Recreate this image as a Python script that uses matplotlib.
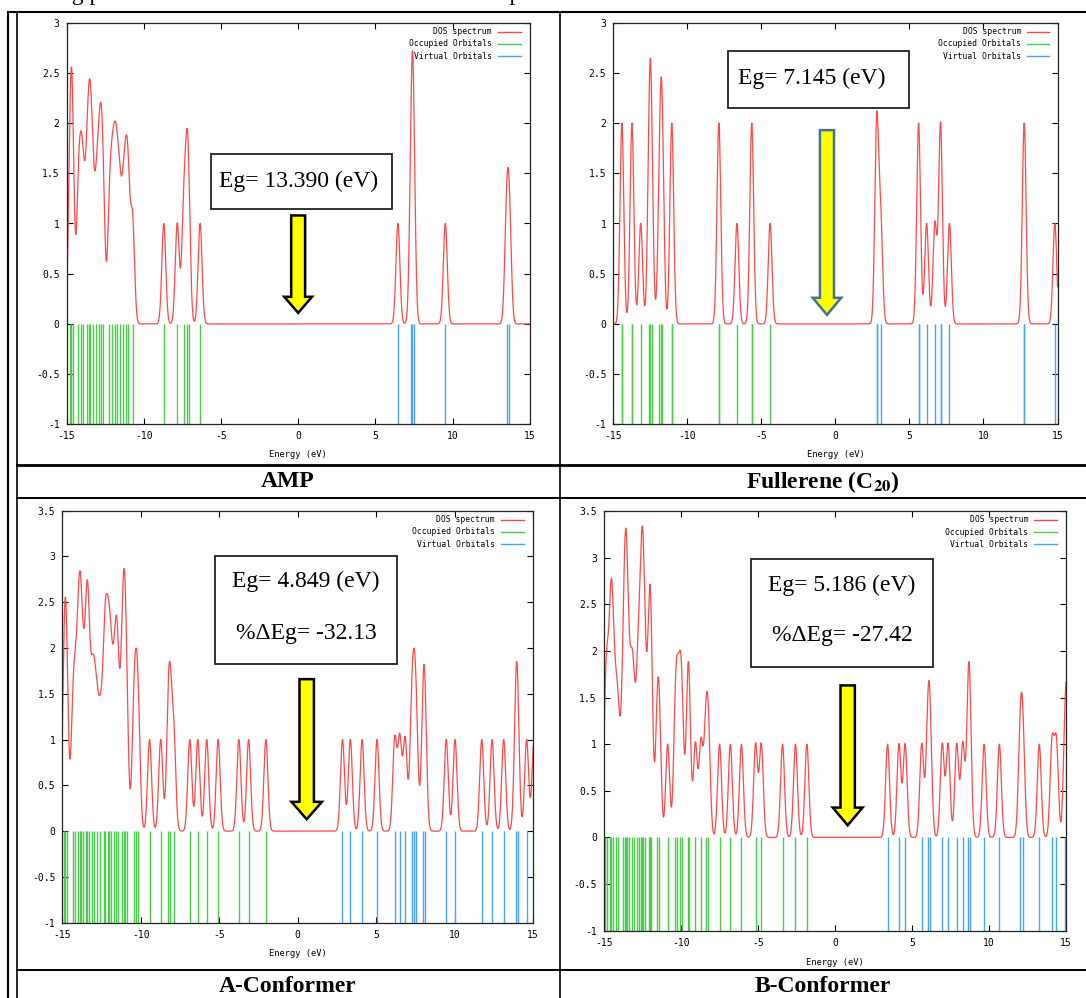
import numpy as np
import matplotlib
matplotlib.use("Agg")
import matplotlib.pyplot as plt
from matplotlib.lines import Line2D
from matplotlib.patches import Rectangle, FancyArrow
from matplotlib.ticker import FormatStrFormatter

plt.rcParams["axes.unicode_minus"] = False
plt.rcParams["mathtext.fontset"] = "stix"

W, H = 1086, 998

# ── Orbital energies (eV) ────────────────────────────────────────────────────
amp_occ = [-14.78, -14.68, -14.60, -14.24, -14.08, -13.92, -13.70, -13.55, -13.45,
           -13.30, -13.07, -12.89, -12.76, -12.62, -12.22, -12.04, -11.88, -11.73,
           -11.55, -11.32, -11.14, -10.99, -10.72, -8.70, -7.83, -7.42, -7.22,
           -7.10, -6.35]
amp_virt = [6.46, 7.33, 7.40, 7.47, 9.53, 13.50, 13.68]

c20_occ = [-14.42, -14.42, -13.74, -13.74, -13.15, -12.58, -12.50, -12.42, -11.88,
           -11.75, -11.68, -11.05, -11.05, -7.87, -7.87, -6.65, -5.65, -5.65, -4.41]
c20_virt = [2.79, 2.79, 3.06, 5.62, 5.62, 6.16, 6.72, 7.10, 7.10, 7.70, 12.75,
            12.75, 14.82]

a_occ = [-14.90, -14.80, -14.72, -14.34, -14.18, -14.01, -13.90, -13.82, -13.68,
         -13.50, -13.40, -13.32, -13.12, -12.97, -12.79, -12.57, -12.35, -12.25,
         -12.12, -12.00, -11.87, -11.69, -11.55, -11.45, -11.21, -11.10, -11.02,
         -10.90, -10.45, -10.30, -10.15, -9.44, -8.73, -8.25, -8.12, -7.90,
         -6.88, -6.37, -5.80, -5.07, -3.75, -3.13, -2.03]
a_virt = [2.85, 3.35, 4.10, 5.05, 6.18, 6.50, 6.84, 7.25, 7.40, 7.55, 7.99, 8.10,
          9.46, 10.02, 11.72, 12.38, 13.12, 13.90, 14.00, 14.58, 15.05]

b_occ = [-14.91, -14.78, -14.60, -14.51, -14.42, -14.24, -14.06, -13.79, -13.65,
         -13.58, -13.52, -13.38, -13.20, -13.07, -12.84, -12.71, -12.57, -12.50,
         -12.44, -12.30, -12.08, -12.00, -11.92, -11.54, -11.40, -10.86, -10.37,
         -10.23, -10.05, -9.92, -9.56, -9.47, -9.06, -8.70, -8.39, -8.21, -7.49,
         -6.79, -6.07, -5.15, -4.78, -3.40, -2.56, -1.82]
b_virt = [3.42, 4.16, 4.56, 5.64, 6.03, 6.18, 6.97, 7.35, 7.91, 8.30, 8.66, 8.75,
          9.69, 10.68, 12.03, 12.21, 13.27, 14.10, 14.38, 14.95, 15.10]

captions = ["AMP", r"Fullerene (C$_{\mathbf{20}}$)", "A-Conformer", "B-Conformer"]
eg_labels = ["Eg= 13.390 (eV)", "Eg= 7.145 (eV)", "Eg= 4.849 (eV)", "Eg= 5.186 (eV)"]
deg_labels = [None, None, "%\u0394Eg= -32.13", "%\u0394Eg= -27.42"]
y_max = [3, 3, 3.5, 3.5]
legend_labels = ["DOS spectrum", "Occupied Orbitals", "Virtual Orbitals"]

RED, GREEN, BLUE = "#ff4848", "#4ccc4c", "#4aa3ff"
FWHM = 0.3  # Gaussian broadening used for the DOS curve (eV)

# ── Layout (pixels of the 1086x998 canvas) ───────────────────────────────────
frames = [(66.5, 22.7, 529.8, 424.3), (613.3, 22.7, 1057.5, 424.3),
          (62.3, 510.7, 533.2, 922.7), (603.9, 511.0, 1065.9, 930.7)]
boxes = [(211, 154, 392, 209), (728, 51, 909, 108),
         (215, 556, 397, 664), (751, 559, 933, 667)]
text_pos = [[(299, 181)], [(812, 78)], [(306, 581), (306, 633)], [(842, 585), (842, 635)]]
# arrow: x centre, top, tip, head length, shaft width, head width (data units)
arrows = [(0.0, 1.08, 0.11, 0.16, 0.9, 1.8), (-0.57, 1.93, 0.09, 0.17, 0.95, 1.92),
          (0.57, 1.66, 0.13, 0.19, 0.92, 1.94), (0.83, 1.63, 0.13, 0.19, 0.93, 1.93)]
arrow_edge = ["black", "#41719c", "black", "black"]
cap_pos = [(288, 482), (823, 482), (288, 986), (823, 986)]
xlabel_off = [30, 30, 31, 32]


def fx(x):
    return x / W


def fy(y):
    return 1 - y / H


def dos(levels, grid):
    lv = np.asarray(levels)[:, None]
    return np.exp(-4 * np.log(2) * (grid - lv) ** 2 / FWHM ** 2).sum(axis=0)


fig = plt.figure(figsize=(W / 100, H / 100), dpi=100)
energy = np.linspace(-15, 15, 3001)
occ_sets = [amp_occ, c20_occ, a_occ, b_occ]
virt_sets = [amp_virt, c20_virt, a_virt, b_virt]

for i in range(4):
    x0, y0, x1, y1 = frames[i]
    ax = fig.add_axes([fx(x0), fy(y1), (x1 - x0) / W, (y1 - y0) / H])
    h_px = y1 - y0

    ax.vlines(occ_sets[i], -1, 0, color=GREEN, lw=1.0)
    ax.vlines(virt_sets[i], -1, 0, color=BLUE, lw=1.0)
    ax.plot(energy, dos(occ_sets[i] + virt_sets[i], energy), color=RED, lw=0.9)

    ax.set_xlim(-15, 15)
    ax.set_ylim(-1, y_max[i])
    ax.set_xticks(np.arange(-15, 16, 5))
    ax.set_yticks(np.arange(-1, y_max[i] + 0.01, 0.5))
    ax.yaxis.set_major_formatter(FormatStrFormatter("%g"))
    ax.tick_params(direction="in", top=True, right=True, length=4, width=0.8,
                   labelsize=7, pad=5)
    for lab in ax.get_xticklabels() + ax.get_yticklabels():
        lab.set_family("DejaVu Sans Mono")
    for s in ax.spines.values():
        s.set_linewidth(0.9)
        s.set_color("#222222")
    ax.text(0.5, -xlabel_off[i] / h_px, "Energy (eV)", transform=ax.transAxes,
            ha="center", va="center", fontsize=6.3, family="DejaVu Sans Mono")

    # gnuplot style key, text right aligned before the sample line
    for k, (lab, col) in enumerate(zip(legend_labels, [RED, GREEN, BLUE])):
        yy = 1 - (9 + 12.2 * k) / h_px
        ax.text(0.918, yy, lab, transform=ax.transAxes, ha="right", va="center",
                fontsize=5.8, family="DejaVu Sans Mono")
        ax.add_line(Line2D([0.932, 0.98], [yy, yy], transform=ax.transAxes,
                           color=col, lw=1.0))

    xc, top, tip, hl, w, hw = arrows[i]
    ax.add_patch(FancyArrow(xc, top, 0, tip - top, width=w, head_width=hw,
                            head_length=hl, length_includes_head=True,
                            facecolor="#ffff00", edgecolor=arrow_edge[i], lw=1.8,
                            zorder=6))

    bx0, by0, bx1, by1 = boxes[i]
    fig.add_artist(Rectangle((fx(bx0), fy(by1)), (bx1 - bx0) / W, (by1 - by0) / H,
                             transform=fig.transFigure, facecolor="white",
                             edgecolor="#222222", lw=1.3, zorder=7))
    lines = [eg_labels[i]] + ([deg_labels[i]] if deg_labels[i] else [])
    for (tx, ty), s in zip(text_pos[i], lines):
        fig.text(fx(tx), fy(ty), s, ha="center", va="center", fontsize=17,
                 family="Liberation Serif", zorder=8)

    cx, cy = cap_pos[i]
    fig.text(fx(cx), fy(cy), captions[i], ha="center", va="center", fontsize=17,
             family="Liberation Serif", weight="bold")

# ── Table rules ──────────────────────────────────────────────────────────────
rules = [((7.6, 12), (7.6, 998), 1.5), ((16.6, 12), (16.6, 998), 1.2),
         ((7.6, 12), (1086, 12), 1.5), ((560, 12), (560, 998), 1.2),
         ((16.6, 465), (1086, 465), 2.0), ((16.6, 498), (1086, 498), 1.4),
         ((16.6, 970), (1086, 970), 1.4)]
for (ax0, ay0), (ax1, ay1), lw in rules:
    fig.add_artist(Line2D([fx(ax0), fx(ax1)], [fy(ay0), fy(ay1)],
                          transform=fig.transFigure, color="black", lw=lw))

# cut-off line of body text above the table (only descenders show, as in the source)
fig.text(fx(-51), 1.0, "The following plots show the band structure and the DOS spectra",
         ha="left", va="baseline", fontsize=17, family="Liberation Serif")

fig.savefig("out.png", dpi=100)
